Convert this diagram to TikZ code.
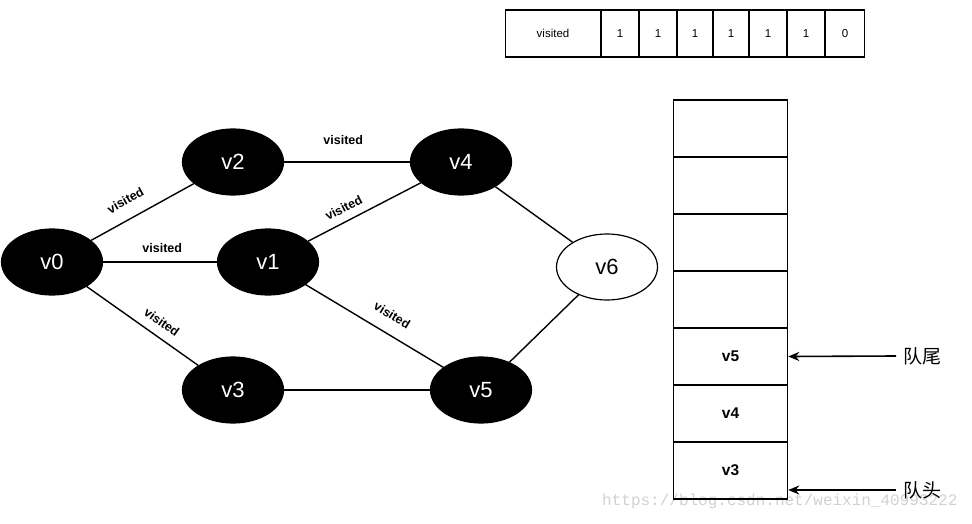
\documentclass[tikz,border=0pt]{standalone}
\usepackage{fontspec}
\setmainfont{Liberation Sans}
\newfontfamily\cjkfont{Noto Sans CJK SC}
\newfontfamily\wmfont{Liberation Mono}
\usetikzlibrary{shapes.geometric,arrows.meta}
\begin{document}
\begin{tikzpicture}[x=1pt,y=-1pt,
  vertex/.style={ellipse,draw=black,line width=1.2pt,minimum width=101pt,minimum height=66pt,inner sep=0pt,
    font=\fontsize{22}{22}\selectfont},
  seen/.style={vertex,fill=black,text=white},
  fresh/.style={vertex,fill=white,text=black},
  edge/.style={line width=1.4pt},
  elabel/.style={font=\fontsize{12.5}{12.5}\selectfont\bfseries,inner sep=2pt},
  cell/.style={draw=black,line width=1.5pt,minimum height=47pt,inner sep=0pt,font=\fontsize{11.5}{11.5}\selectfont},
  qcell/.style={draw=black,line width=1.5pt,minimum width=114pt,minimum height=57pt,inner sep=0pt,
    font=\fontsize{15.5}{15.5}\selectfont\bfseries},
  pointer/.style={line width=1.6pt,-{Stealth[length=11pt,width=9pt]}},
  qlabel/.style={font=\cjkfont\fontsize{19}{19}\selectfont,anchor=west,inner sep=0pt}]
\useasboundingbox (0,0) rectangle (972,524);

% blog address stamped across the lower right
\node[anchor=base west,inner sep=0pt,text=black!18,font=\wmfont\fontsize{16}{16}\selectfont] (wm) at (602,505) {https://blog.csdn.net/weixin\_40993222};

% visited array
\node[cell,minimum width=95pt] (vis) at (553,33.5) {visited};
\node[cell,minimum width=38pt] (c1) at (620,33.5) {1};
\node[cell,minimum width=38pt] (c2) at (658,33.5) {1};
\node[cell,minimum width=36pt] (c3) at (695,33.5) {1};
\node[cell,minimum width=37pt] (c4) at (731,33.5) {1};
\node[cell,minimum width=38pt] (c5) at (768,33.5) {1};
\node[cell,minimum width=38pt] (c6) at (806,33.5) {1};
\node[cell,minimum width=39pt] (c7) at (845,33.5) {0};

% queue
\node[qcell] (q1) at (730.5,128.5) {};
\node[qcell] (q2) at (730.5,185.5) {};
\node[qcell] (q3) at (730.5,242.5) {};
\node[qcell] (q4) at (730.5,299.5) {};
\node[qcell] (q5) at (730.5,356.5) {v5};
\node[qcell] (q6) at (730.5,413.5) {v4};
\node[qcell] (q7) at (730.5,470.5) {v3};

% queue pointers
\coordinate (tailend) at (896,356);
\coordinate (headend) at (896,490);
\draw[pointer] (tailend) -- (q5.east);
\draw[pointer] (headend) -- (q7.east |- headend);
\node[qlabel] (tail) at (903,356) {队尾};
\node[qlabel] (head) at (903,490) {队头};

% graph
\node[seen] (v0) at (52,262) {v0};
\node[seen] (v2) at (233,162) {v2};
\node[seen] (v1) at (268,262) {v1};
\node[seen] (v3) at (233,390) {v3};
\node[seen] (v4) at (461,162) {v4};
\node[seen] (v5) at (481,390) {v5};
\node[fresh] (v6) at (607,267) {v6};

\draw[edge] (v0) -- node[elabel,pos=0.42,sloped,above=11pt] {visited} (v2);
\draw[edge] (v0) -- node[elabel,pos=0.52,above=7pt] {visited} (v1);
\draw[edge] (v0) -- node[elabel,pos=0.6,sloped,above=7pt] {visited} (v3);
\draw[edge] (v2) -- node[elabel,pos=0.47,above=15pt] {visited} (v4);
\draw[edge] (v1) -- node[elabel,pos=0.37,sloped,above=6pt] {visited} (v4);
\draw[edge] (v1) -- node[elabel,pos=0.56,sloped,above=11pt] {visited} (v5);
\draw[edge] (v3) -- (v5);
\draw[edge] (v4) -- (v6);
\draw[edge] (v5) -- (v6);
\end{tikzpicture}
\end{document}
